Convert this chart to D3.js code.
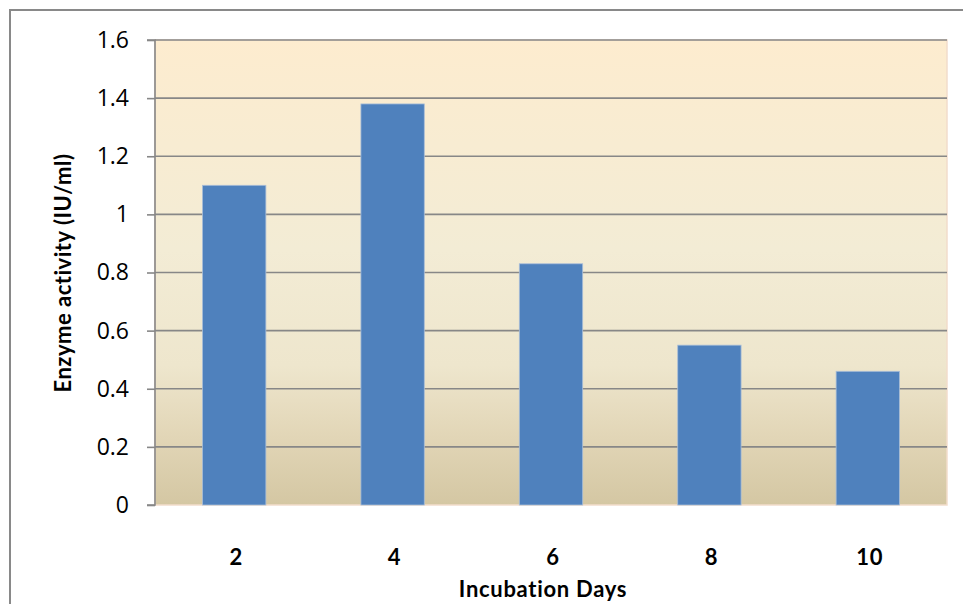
<!DOCTYPE html>
<html>
<head>
<meta charset="utf-8">
<script src="https://cdn.jsdelivr.net/npm/d3@7"></script>
<style>
  html, body { margin: 0; padding: 0; background: #fff; }
  svg { display: block; font-family: Lato, "Open Sans", "Liberation Sans", sans-serif; }
</style>
</head>
<body>
<svg id="chart" width="963" height="604"></svg>
<script>
// Enzyme activity by incubation day
const days = ["2", "4", "6", "8", "10"];
const activity = [1.10, 1.38, 0.83, 0.55, 0.46];
const yTicks = [0, 0.2, 0.4, 0.6, 0.8, 1, 1.2, 1.4, 1.6];

const svg = d3.select("#chart");
const W = 963, H = 604;
const plot = { left: 155, top: 40, right: 947, bottom: 505 };

// Outer chart frame
svg.append("rect")
  .attr("x", 10).attr("y", 10)
  .attr("width", W).attr("height", H)
  .attr("fill", "#fff")
  .attr("stroke", "#898989").attr("stroke-width", 2);

// Plot-area gradient fill
const defs = svg.append("defs");
const grad = defs.append("linearGradient")
  .attr("id", "bg").attr("x1", 0).attr("y1", 0).attr("x2", 0).attr("y2", 1);
[["0%", "#FDECCF"], ["45%", "#F3ECD5"], ["70%", "#EEE6CD"], ["85%", "#E2D6B7"], ["100%", "#D4C7A3"]]
  .forEach(([o, c]) => grad.append("stop").attr("offset", o).attr("stop-color", c));

const x = d3.scaleBand().domain(days).range([plot.left, plot.right]).paddingInner(0.6).paddingOuter(0.3);
const y = d3.scaleLinear().domain([0, 1.6]).range([plot.bottom, plot.top]);

svg.append("rect")
  .attr("x", plot.left).attr("y", plot.top)
  .attr("width", plot.right - plot.left).attr("height", plot.bottom - plot.top)
  .attr("fill", "url(#bg)")
  .attr("stroke", "#F2DDCB").attr("stroke-width", 1.5);

// Horizontal gridlines
svg.append("g")
  .selectAll("line")
  .data(yTicks.filter(d => d > 0))
  .join("line")
  .attr("x1", plot.left).attr("x2", plot.right)
  .attr("y1", d => y(d)).attr("y2", d => y(d))
  .attr("stroke", "#878787").attr("stroke-width", 1.6);

// Bars
svg.append("g")
  .selectAll("rect")
  .data(days.map((d, i) => ({ day: d, v: activity[i] })))
  .join("rect")
  .attr("x", d => x(d.day))
  .attr("y", d => y(d.v))
  .attr("width", x.bandwidth())
  .attr("height", d => y(0) - y(d.v))
  .attr("fill", "#4F81BD")
  .attr("stroke", "#A9BED8").attr("stroke-width", 0.8);

// Y axis
const yAxis = svg.append("g")
  .attr("transform", `translate(${plot.left},0)`)
  .call(d3.axisLeft(y).tickValues(yTicks).tickFormat(d => String(d)).tickSize(8).tickPadding(18));
yAxis.select(".domain").attr("stroke", "#878787").attr("stroke-width", 1.6).attr("d", `M-8,${plot.top}H0V${plot.bottom}H-8`);
yAxis.selectAll(".tick line").attr("stroke", "#878787").attr("stroke-width", 1.6);
yAxis.selectAll(".tick text")
  .attr("fill", "#000").attr("font-size", 23)
  .attr("font-family", "'Open Sans', Lato, sans-serif");

// X axis labels
svg.append("g")
  .selectAll("text")
  .data(days)
  .join("text")
  .attr("x", d => x(d) + x.bandwidth() / 2 + 2)
  .attr("y", 565)
  .attr("text-anchor", "middle")
  .attr("font-size", 22).attr("font-weight", "bold")
  .attr("letter-spacing", 0.7)
  .text(d => d);

// Axis titles
svg.append("text")
  .attr("x", 543).attr("y", 597)
  .attr("text-anchor", "middle")
  .attr("font-size", 22).attr("font-weight", "bold")
  .attr("letter-spacing", 0.7)
  .text("Incubation Days");

svg.append("text")
  .attr("transform", "translate(71,273) rotate(-90)")
  .attr("text-anchor", "middle")
  .attr("font-size", 22).attr("font-weight", "bold")
  .attr("letter-spacing", 0.5)
  .text("Enzyme activity (IU/ml)");
</script>
</body>
</html>
